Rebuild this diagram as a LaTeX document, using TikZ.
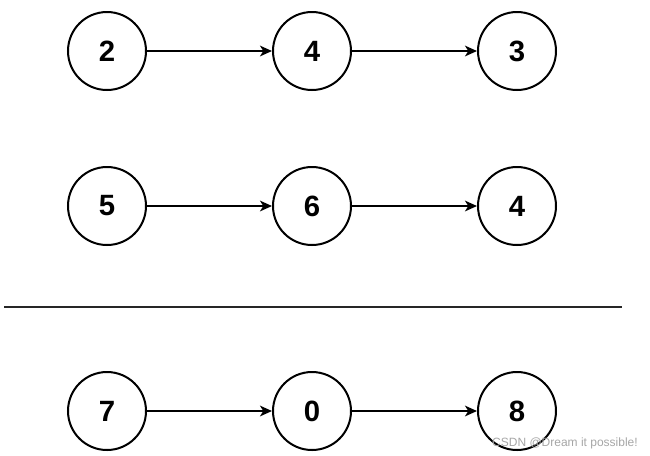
\documentclass[tikz,border=0pt]{standalone}
\usepackage{fontspec}
\setmainfont{Liberation Sans}
\usetikzlibrary{arrows.meta}
\begin{document}
\begin{tikzpicture}[x=0.75pt,y=-0.75pt,
  num/.style={circle,draw=black,line width=1.5pt,minimum size=78*0.75pt,inner sep=0pt,font=\fontsize{22}{24}\selectfont\bfseries},
  link/.style={line width=1.4pt,-{Stealth[length=9pt,width=8pt,inset=2.5pt]}},
  sep/.style={line width=1.6pt,draw=black!85}]
\useasboundingbox (0,0) rectangle (650,455);
\node[num] (a1) at (107,51) {2};
\node[num] (a2) at (312,51) {4};
\node[num] (a3) at (517,51) {3};
\node[num] (b1) at (107,206) {5};
\node[num] (b2) at (312,206) {6};
\node[num] (b3) at (517,206) {4};
\node[num] (c1) at (107,411) {7};
\node[num] (c2) at (312,411) {0};
\node[num] (c3) at (517,411) {8};
\draw[link] (a1) -- (a2);
\draw[link] (a2) -- (a3);
\draw[link] (b1) -- (b2);
\draw[link] (b2) -- (b3);
\draw[link] (c1) -- (c2);
\draw[link] (c2) -- (c3);
\coordinate (l1) at (4,307);
\coordinate (l2) at (622,307);
\draw[sep] (l1) -- (l2);
\node[anchor=east,inner sep=0pt,text=black!35,font=\fontsize{9}{10}\selectfont] (wm) at (638,443) {CSDN @Dream it possible!};
\end{tikzpicture}
\end{document}
